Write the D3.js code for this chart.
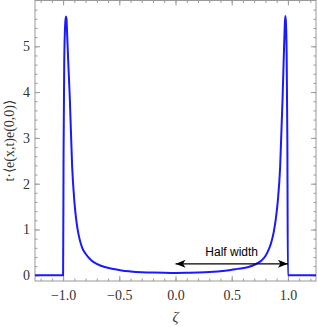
<!DOCTYPE html>
<html>
<head>
<meta charset="utf-8">
<script src="https://cdn.jsdelivr.net/npm/d3@7"></script>
<style>
  body { margin: 0; background: #fff; }
  .tick text { font-family: "Liberation Serif", serif; font-size: 14px; fill: #333; }
</style>
</head>
<body>
<div id="chart"></div>
<script>
// curve
const zeta = [-1.25, -1.0, -0.996, -0.99, -0.983, -0.976, -0.970, -0.963, -0.955, -0.940, -0.920, -0.900, -0.880, -0.860,
  -0.830, -0.800, -0.750, -0.700, -0.630, -0.550, -0.480, -0.400, -0.300, -0.200, -0.100, 0.0,
  0.100, 0.200, 0.300, 0.441, 0.550, 0.649, 0.720, 0.768, 0.800, 0.827, 0.850, 0.872, 0.892, 0.911, 0.931, 0.952,
  0.965, 0.972, 0.977, 0.983, 0.989, 0.995, 1.0, 1.25];
const value = [0, 0, 2.6, 4.6, 5.4, 5.65, 5.6, 5.2, 4.7, 3.85, 2.4, 1.62, 1.15, 0.86,
  0.6, 0.47, 0.33, 0.25, 0.18, 0.135, 0.105, 0.085, 0.068, 0.058, 0.053, 0.051,
  0.054, 0.06, 0.07, 0.1, 0.14, 0.18, 0.25, 0.33, 0.42, 0.55, 0.7, 0.92, 1.22, 1.64, 2.36, 3.82,
  4.9, 5.45, 5.66, 5.5, 4.8, 3.0, 0, 0];

const xMajor = [-1.0, -0.5, 0.0, 0.5, 1.0];
const yMajor = [0, 1, 2, 3, 4, 5];
const xMinor = d3.range(-12, 13).map(d => d / 10);
const yMinor = d3.range(0, 30).map(d => d / 5);

const width = 318, height = 327;
const pLeft = 35, pRight = 316, pTop = 0.5, pBottom = 281;

const svg = d3.select("#chart").append("svg")
  .attr("width", width)
  .attr("height", height);

const x = d3.scaleLinear().domain([-1.25, 1.25]).range([pLeft, pRight]);
const y = d3.scaleLinear().domain([-0.125, 6.0]).range([pBottom, pTop]);

const fmt = d => d3.format(".1f")(d).replace("-", "\u2212");

function styleAxis(g) {
  g.select(".domain").remove();
  g.selectAll(".tick line").attr("stroke", "#999").attr("stroke-width", 1);
}

// minor ticks
svg.append("g").attr("transform", `translate(0,${pBottom})`)
  .call(d3.axisBottom(x).tickValues(xMinor).tickSize(-2.5).tickFormat(""))
  .call(styleAxis);
svg.append("g").attr("transform", `translate(0,${pTop})`)
  .call(d3.axisTop(x).tickValues(xMinor).tickSize(-2.5).tickFormat(""))
  .call(styleAxis);
svg.append("g").attr("transform", `translate(${pLeft},0)`)
  .call(d3.axisLeft(y).tickValues(yMinor).tickSize(-2.5).tickFormat(""))
  .call(styleAxis);
svg.append("g").attr("transform", `translate(${pRight},0)`)
  .call(d3.axisRight(y).tickValues(yMinor).tickSize(-2.5).tickFormat(""))
  .call(styleAxis);

// major ticks
svg.append("g").attr("transform", `translate(0,${pBottom})`)
  .call(d3.axisBottom(x).tickValues(xMajor).tickSize(-5).tickPadding(9).tickFormat(fmt))
  .call(styleAxis);
svg.append("g").attr("transform", `translate(0,${pTop})`)
  .call(d3.axisTop(x).tickValues(xMajor).tickSize(-5).tickFormat(""))
  .call(styleAxis);
svg.append("g").attr("transform", `translate(${pLeft},0)`)
  .call(d3.axisLeft(y).tickValues(yMajor).tickSize(-5).tickPadding(5).tickFormat(d3.format("d")))
  .call(styleAxis);
svg.append("g").attr("transform", `translate(${pRight},0)`)
  .call(d3.axisRight(y).tickValues(yMajor).tickSize(-5).tickFormat(""))
  .call(styleAxis);

// frame
svg.append("rect")
  .attr("x", pLeft).attr("y", pTop)
  .attr("width", pRight - pLeft).attr("height", pBottom - pTop)
  .attr("fill", "none").attr("stroke", "#999").attr("stroke-width", 1);

// curve
const pts = zeta.map((z, i) => [z, value[i]]);
svg.append("path")
  .datum(pts)
  .attr("fill", "none")
  .attr("stroke", "#1a1aff")
  .attr("stroke-width", 2)
  .attr("stroke-linejoin", "round")
  .attr("d", d3.line().x(d => x(d[0])).y(d => y(d[1])).curve(d3.curveMonotoneX));

// half width arrow
const defs = svg.append("defs");
defs.append("marker")
  .attr("id", "head")
  .attr("viewBox", "0 0 10 8")
  .attr("refX", 10).attr("refY", 4)
  .attr("markerWidth", 10).attr("markerHeight", 8)
  .attr("markerUnits", "userSpaceOnUse")
  .attr("orient", "auto-start-reverse")
  .append("path").attr("d", "M0,0 L10,4 L0,8 L2.5,4 Z").attr("fill", "#000");

const arrowY = 0.25;
svg.append("line")
  .attr("x1", x(0)).attr("x2", x(1))
  .attr("y1", y(arrowY)).attr("y2", y(arrowY))
  .attr("stroke", "#000").attr("stroke-width", 1.3)
  .attr("marker-start", "url(#head)")
  .attr("marker-end", "url(#head)");

svg.append("text")
  .attr("x", x(0.5)).attr("y", y(arrowY) - 8)
  .attr("text-anchor", "middle")
  .attr("font-family", "Liberation Sans, Arial, sans-serif")
  .attr("font-size", 12)
  .attr("fill", "#000")
  .text("Half width");

// axis labels
svg.append("text")
  .attr("transform", `translate(14,${(pTop + pBottom) / 2}) rotate(-90)`)
  .attr("text-anchor", "middle")
  .attr("font-family", "Liberation Serif, serif")
  .attr("font-size", 14)
  .attr("fill", "#333")
  .text("t\u00b7\u27e8e(x,t)e(0,0)\u27e9");

svg.append("text")
  .attr("x", x(0)).attr("y", 322)
  .attr("text-anchor", "middle")
  .attr("font-family", "Liberation Serif, serif")
  .attr("font-style", "italic")
  .attr("font-size", 15)
  .attr("fill", "#333")
  .text("\u03b6");
</script>
</body>
</html>
